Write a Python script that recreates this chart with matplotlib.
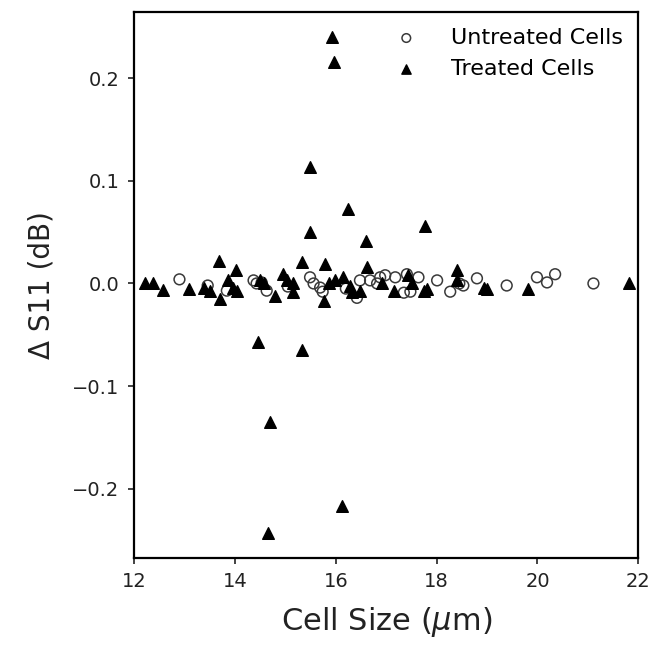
import numpy as np
import matplotlib.pyplot as plt

# Untreated cells (open circles)
untreated_size = [12.90, 13.46, 13.84, 14.37, 14.43, 14.53, 14.63, 15.05, 15.49, 15.56,
                  15.69, 15.74, 16.20, 16.42, 16.48, 16.68, 16.82, 16.88, 16.98, 17.18,
                  17.35, 17.41, 17.48, 17.64, 18.01, 18.27, 18.45, 18.53, 18.80, 19.39,
                  19.99, 20.19, 20.35, 21.11]
untreated_ds11 = [0.004, -0.002, -0.007, 0.003, 0.000, 0.001, -0.007, -0.003, 0.006, 0.000,
                  -0.004, -0.008, -0.005, -0.014, 0.003, 0.003, 0.000, 0.006, 0.008, 0.006,
                  -0.009, 0.009, -0.008, 0.006, 0.003, -0.008, 0.000, -0.002, 0.005, -0.002,
                  0.006, 0.001, 0.009, 0.000]

# Treated cells (filled triangles)
treated_size = [12.22, 12.38, 12.58, 13.08, 13.38, 13.51, 13.69, 13.71, 13.87, 13.97,
                14.02, 14.04, 14.46, 14.50, 14.57, 14.66, 14.70, 14.80, 14.96, 15.03,
                15.16, 15.16, 15.33, 15.33, 15.49, 15.49, 15.76, 15.78, 15.86, 15.93,
                15.97, 15.99, 16.13, 16.15, 16.25, 16.29, 16.32, 16.48, 16.60, 16.62,
                16.91, 17.15, 17.44, 17.51, 17.74, 17.77, 17.81, 18.40, 18.40, 18.93,
                19.00, 19.82, 21.81]
treated_ds11 = [0.000, 0.000, -0.006, -0.005, -0.004, -0.007, 0.022, -0.015, 0.003, -0.004,
                0.013, -0.007, -0.057, 0.003, 0.000, -0.243, -0.135, -0.012, 0.009, 0.003,
                0.000, -0.008, 0.021, -0.065, 0.113, 0.050, -0.017, 0.019, 0.000, 0.240,
                0.216, 0.003, -0.217, 0.006, 0.073, -0.002, -0.008, -0.007, 0.041, 0.016,
                0.000, -0.007, 0.008, 0.000, -0.007, 0.056, -0.005, 0.013, 0.003, -0.004,
                -0.005, -0.005, 0.000]

fig = plt.figure(figsize=(6.54, 6.47), dpi=100)
ax = fig.add_axes([0.205, 0.138, 0.771, 0.843])

ax.scatter(untreated_size, untreated_ds11, s=60, marker='o', facecolors='none',
           edgecolors='#3a3a3a', linewidths=1.1, label='Untreated Cells')
ax.scatter(treated_size, treated_ds11, s=70, marker='^', color='black',
           label='Treated Cells')

ax.set_xlim(12, 22)
ax.set_xticks([12, 14, 16, 18, 20, 22])
ax.set_yticks([-0.2, -0.1, 0.0, 0.1, 0.2])
ax.set_xlabel(r'Cell Size ($\mu$m)', fontsize=22, color='#222222', labelpad=10)
ax.set_ylabel('\u0394 S11 (dB)', fontsize=20, color='#222222', labelpad=12)
ax.tick_params(labelsize=14, colors='#222222', length=4.5, width=1.2, pad=6)
for sp in ax.spines.values():
    sp.set_linewidth(1.6)

ax.legend(loc='upper right', frameon=False, fontsize=16, handletextpad=1.0,
          markerscale=0.8, borderaxespad=0.3)

fig.savefig('out.png', dpi=100)
